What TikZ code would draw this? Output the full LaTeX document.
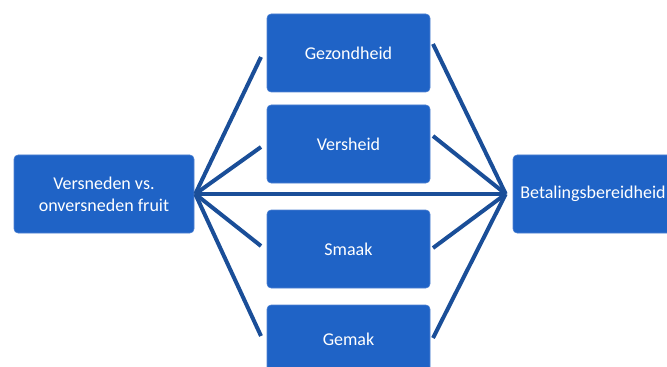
\documentclass[tikz,border=0pt]{standalone}
\usepackage{fontspec}
\setmainfont{Carlito}
\definecolor{boxblue}{RGB}{31,99,198}
\definecolor{boxedge}{RGB}{80,130,210}
\definecolor{linkblue}{RGB}{26,78,152}
\begin{document}
\begin{tikzpicture}[x=0.75pt,y=-0.75pt,
  factor/.style={draw=boxedge,line width=0.4pt,fill=boxblue,rounded corners=3pt,
    text=white,font=\fontsize{13.5}{16.5}\selectfont,align=center,
    inner sep=0pt,minimum width=163*0.75pt,minimum height=78*0.75pt},
  link/.style={draw=linkblue,line width=3pt}]
\useasboundingbox (0,0) rectangle (667,367);
\begin{scope}
\clip (0,0) rectangle (667,367);
% outer blocks
\node[factor,minimum width=180*0.75pt] (v) at (104,194) {Versneden vs.\\onversneden fruit};
\node[factor,minimum width=160*0.75pt] (b) at (593,194) {Betalingsbereidheid};
% intermediate factors
\node[factor] (g) at (348.5,53) {Gezondheid};
\node[factor] (h) at (348.5,144) {Versheid};
\node[factor] (s) at (348.5,249) {Smaak};
\node[factor,minimum height=68*0.75pt] (m) at (348.5,339) {Gemak};
% fan-out and fan-in points
\coordinate (hl) at ([xshift=0.75pt]v.east);
\coordinate (hr) at ([xshift=-5.25pt]b.west);
\coordinate (gl) at (261,57);
\coordinate (hl2) at (261,147);
\coordinate (sl) at (261,246);
\coordinate (ml) at (261,336);
\coordinate (gr) at (433,44);
\coordinate (hr2) at (433,136);
\coordinate (sr) at (433,248);
\coordinate (mr) at (433,338);
\draw[link] (hl) -- (gl);
\draw[link] (hl) -- (hl2);
\draw[link] (hl) -- (sl);
\draw[link] (hl) -- (ml);
\draw[link] (gr) -- (hr);
\draw[link] (hr2) -- (hr);
\draw[link] (sr) -- (hr);
\draw[link] (mr) -- (hr);
\draw[link] (hl) -- (hr);
\end{scope}
\end{tikzpicture}
\end{document}
